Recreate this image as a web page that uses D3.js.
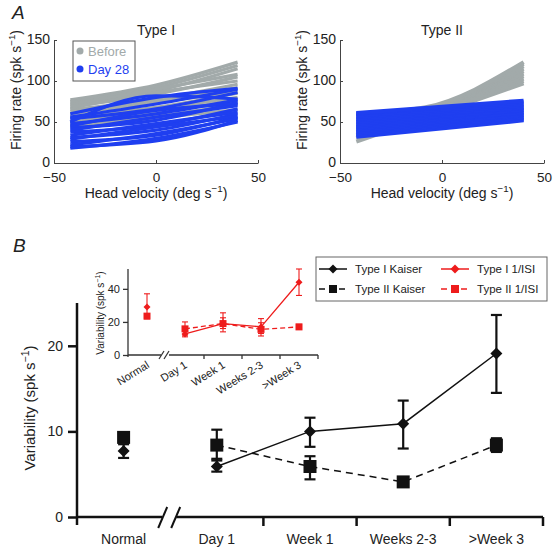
<!DOCTYPE html>
<html><head><meta charset="utf-8">
<script src="https://cdn.jsdelivr.net/npm/d3@7"></script>
<style>body{margin:0;background:#fff} svg{display:block} text{font-family:"Liberation Sans",Arial,Helvetica,sans-serif}</style>
</head><body>
<script>
// ---------- Panel A data ----------
const velocityTypeI = [-42, 0, 40];
const velocityTypeII = [-42, -8, 40];
const typeIBefore = [[77,95,123],[75,92,119],[73,88,115],[71,90,108],[69,84,105],[67,86,100],[65,78,96],[63,76,92],[60,74,87],[57,68,85],[54,66,80],[50,63,76],[47,57,72],[44,55,65]];
const typeIDay28 = [[60,80,91],[56,72,90],[54,66,86],[50,82,78],[48,60,77],[45,64,72],[43,52,74],[40,56,70],[38,46,66],[34,48,62],[31,40,60],[29,44,57],[26,34,56],[22,36,54],[20,27,52],[18,30,50]];
const typeIIBefore = [[26,55,97],[30,57,100],[34,58,103],[38,60,106],[42,62,109],[46,63,112],[50,64,115],[54,65,118],[58,66,121],[60,68,123]];
const typeIIDay28Start = [32,34,36,38,40,42,44,46,48,50,52,54,56,58,60,61];
const typeIIDay28End = [52,53,55,56,58,59,61,62,64,65,67,68,70,72,74,76];
const velTicks = [-50, 0, 50];
const rateTicks = [0, 50, 100, 150];

// ---------- Panel B data ----------
const categories = ["Normal", "Day 1", "Week 1", "Weeks 2-3", ">Week 3"];
const kaiserI = [7.7, 5.9, 10.0, 10.9, 19.1];
const kaiserILow = [6.9, 5.3, 8.2, 8.0, 14.5];
const kaiserIHigh = [8.5, 6.8, 11.6, 13.6, 23.6];
const kaiserII = [9.3, 8.4, 5.9, 4.1, 8.4];
const kaiserIILow = [8.9, 6.6, 4.4, 3.8, 7.6];
const kaiserIIHigh = [9.7, 10.2, 7.1, 4.5, 9.2];
const isiI = [29, 12.7, 19, 17, 44];
const isiILow = [22, 11, 14, 13, 36];
const isiIHigh = [37, 15, 25.5, 22, 52];
const isiII = [23.5, 15.8, 19, 15.5, 17];
const isiIILow = [22, 12, 16, 11.5, 15.5];
const isiIIHigh = [25, 20, 22.5, 19.5, 18.5];
const mainTicks = [0, 10, 20];
const insetTicks = [0, 20, 40];

const GRAY = "#a2aaaa", BLUE = "#1f3ff0", RED = "#ee1c1c";
const W = 555, H = 550;
const svg = d3.select("body").append("svg").attr("width", W).attr("height", H);

function supLabel(g, x, y, text, size, rotate, anchor) {
  const t = g.append("text").attr("font-size", size).attr("text-anchor", anchor || "middle").attr("fill", "#222")
    .attr("transform", `translate(${x},${y})` + (rotate ? ` rotate(${rotate})` : ""));
  t.append("tspan").text(text);
  t.append("tspan").attr("dy", -size * 0.4).attr("font-size", size * 0.7).text("−1");
  t.append("tspan").attr("dy", size * 0.4).text(")");
  return t;
}

// ---------- Panel A ----------
function panelA(x0, title, before, beforeX, dayLines, dayX, lw) {
  const x = d3.scaleLinear().domain([-50, 50]).range([x0, x0 + 204]);
  const y = d3.scaleLinear().domain([0, 150]).range([163, 40]);
  const g = svg.append("g");
  const line = xs => d3.line().x((d, i) => x(xs[i])).y(d => y(d)).curve(d3.curveMonotoneX);
  g.selectAll(".bf").data(before).join("path").attr("d", d => line(beforeX)(d))
    .attr("fill", "none").attr("stroke", GRAY).attr("stroke-width", lw);
  g.selectAll(".dy").data(dayLines).join("path").attr("d", d => line(dayX)(d))
    .attr("fill", "none").attr("stroke", BLUE).attr("stroke-width", lw);
  const ax = g.append("g").attr("transform", `translate(${x0},0)`)
    .call(d3.axisLeft(y).tickValues(rateTicks).tickSize(-3).tickSizeOuter(0).tickPadding(4));
  const bx = g.append("g").attr("transform", `translate(0,163)`)
    .call(d3.axisBottom(x).tickValues(velTicks).tickSize(-3).tickSizeOuter(0).tickPadding(9));
  [ax, bx].forEach(a => {
    a.selectAll("path,line").attr("stroke", "#444");
    a.selectAll("text").attr("font-size", 14).attr("fill", "#222").attr("font-family", '"Liberation Sans",Arial,sans-serif');
  });
  ax.selectAll("text").attr("dy", "0.25em");
  bx.selectAll("text").attr("dy", "0.71em").attr("font-size", 13.5);
  g.append("text").attr("x", x(0)).attr("y", 35).attr("text-anchor", "middle").attr("font-size", 14).attr("fill", "#222").text(title);
  supLabel(g, x(0), 198, "Head velocity (deg s", 14, 0);
  supLabel(g, x0 - 33, 90, "Firing rate (spk s", 14, -90);
}
panelA(54, "Type I", typeIBefore, velocityTypeI, typeIDay28, velocityTypeI, 3.2);
panelA(340, "Type II", typeIIBefore, velocityTypeII,
  typeIIDay28Start.map((s, i) => [s, typeIIDay28End[i]]), [-42, 40], 4);

// legend A
const lg = svg.append("g");
lg.append("rect").attr("x", 73).attr("y", 41).attr("width", 62).attr("height", 40).attr("fill", "#fff").attr("stroke", "#555");
lg.append("circle").attr("cx", 80).attr("cy", 51).attr("r", 3.5).attr("fill", GRAY);
lg.append("text").attr("x", 88).attr("y", 56).attr("font-size", 13).attr("fill", GRAY).text("Before");
lg.append("circle").attr("cx", 80).attr("cy", 69).attr("r", 3.5).attr("fill", BLUE);
lg.append("text").attr("x", 88).attr("y", 74).attr("font-size", 13).attr("fill", BLUE).text("Day 28");

svg.append("text").attr("x", 12).attr("y", 19).attr("font-size", 19).attr("font-style", "italic").attr("fill", "#222").text("A");
svg.append("text").attr("x", 13).attr("y", 252).attr("font-size", 19).attr("font-style", "italic").attr("fill", "#222").text("B");

// ---------- Panel B main ----------
const xb = d3.scaleBand().domain(categories).range([77, 543]).padding(0);
const yb = d3.scaleLinear().domain([0, 25]).range([517, 303]);
const cx = c => xb(c) + xb.bandwidth() / 2;
const gb = svg.append("g");
gb.append("line").attr("x1", 77).attr("x2", 77).attr("y1", 303).attr("y2", 525).attr("stroke", "#111").attr("stroke-width", 2.5);
const yax = gb.append("g").attr("transform", "translate(77,0)")
  .call(d3.axisLeft(yb).tickValues(mainTicks).tickSize(9).tickSizeOuter(0).tickPadding(5));
yax.select(".domain").remove();
yax.selectAll("line").attr("stroke", "#111").attr("stroke-width", 2.5);
yax.selectAll("text").attr("font-size", 14).attr("fill", "#222").attr("font-family", '"Liberation Sans",Arial,sans-serif');
const brk = xb.bandwidth() + 77;
gb.append("line").attr("x1", 77).attr("x2", brk - 8).attr("y1", 517).attr("y2", 517).attr("stroke", "#111").attr("stroke-width", 2.5);
gb.append("line").attr("x1", brk + 6).attr("x2", 543).attr("y1", 517).attr("y2", 517).attr("stroke", "#111").attr("stroke-width", 2.5);
[-12, 1].forEach(o => gb.append("line").attr("x1", brk + o).attr("y1", 528).attr("x2", brk + o + 9).attr("y2", 507).attr("stroke", "#111").attr("stroke-width", 2));
gb.selectAll(".tk").data(categories.slice(1)).join("line")
  .attr("x1", d => xb(d) + xb.bandwidth()).attr("x2", d => xb(d) + xb.bandwidth())
  .attr("y1", 517).attr("y2", 526).attr("stroke", "#111").attr("stroke-width", 2.5);
gb.selectAll(".cl").data(categories).join("text").attr("x", d => cx(d)).attr("y", 544)
  .attr("text-anchor", "middle").attr("font-size", 14).attr("fill", "#222").text(d => d);
supLabel(gb, 35, 408, "Variability (spk s", 15, -90);

function diamond(s) { return `M0,${-s}L${s},0L0,${s}L${-s},0Z`; }
function series(g, xs, yScale, vals, lo, hi, opts) {
  const pts = categories.map((c, i) => ({ x: xs(c), y: yScale(vals[i]), lo: yScale(lo[i]), hi: yScale(hi[i]) }));
  g.append("path").attr("d", d3.line().x(d => d.x).y(d => d.y)(pts.slice(1)))
    .attr("fill", "none").attr("stroke", opts.color).attr("stroke-width", opts.lw)
    .attr("stroke-dasharray", opts.dash || null);
  pts.forEach(p => {
    g.append("line").attr("x1", p.x).attr("x2", p.x).attr("y1", p.lo).attr("y2", p.hi).attr("stroke", opts.color).attr("stroke-width", opts.ew);
    [p.lo, p.hi].forEach(yy => g.append("line").attr("x1", p.x - opts.cap).attr("x2", p.x + opts.cap).attr("y1", yy).attr("y2", yy).attr("stroke", opts.color).attr("stroke-width", opts.ew));
    if (opts.shape === "d") g.append("path").attr("d", diamond(opts.size)).attr("transform", `translate(${p.x},${p.y})`).attr("fill", opts.color);
    else g.append("rect").attr("x", p.x - opts.size).attr("y", p.y - opts.size).attr("width", opts.size * 2).attr("height", opts.size * 2).attr("fill", opts.color);
  });
}

// ---------- Inset ----------
const xi = d3.scaleBand().domain(categories).range([128, 318]);
const yi = d3.scaleLinear().domain([0, 52]).range([355, 269]);
const cxi = c => xi(c) + xi.bandwidth() / 2;
const gi = svg.append("g");
gi.append("line").attr("x1", 128).attr("x2", 128).attr("y1", 269).attr("y2", 357).attr("stroke", "#333").attr("stroke-width", 1.3);
const yiax = gi.append("g").attr("transform", "translate(128,0)")
  .call(d3.axisLeft(yi).tickValues(insetTicks).tickSize(5).tickSizeOuter(0).tickPadding(3));
yiax.select(".domain").remove();
yiax.selectAll("line").attr("stroke", "#333").attr("stroke-width", 1.3);
yiax.selectAll("text").attr("font-size", 11).attr("fill", "#222").attr("font-family", '"Liberation Sans",Arial,sans-serif');
const ibrk = 128 + xi.bandwidth();
gi.append("line").attr("x1", 128).attr("x2", ibrk - 5).attr("y1", 355).attr("y2", 355).attr("stroke", "#333").attr("stroke-width", 1.3);
gi.append("line").attr("x1", ibrk + 3).attr("x2", 318).attr("y1", 355).attr("y2", 355).attr("stroke", "#333").attr("stroke-width", 1.3);
[-7, -2].forEach(o => gi.append("line").attr("x1", ibrk + o).attr("y1", 359).attr("x2", ibrk + o + 5).attr("y2", 351).attr("stroke", "#333").attr("stroke-width", 1.2));
gi.selectAll(".tk").data(categories.slice(1)).join("line")
  .attr("x1", d => xi(d) + xi.bandwidth()).attr("x2", d => xi(d) + xi.bandwidth())
  .attr("y1", 355).attr("y2", 359).attr("stroke", "#333").attr("stroke-width", 1.3);
gi.selectAll(".cl").data(categories).join("text").attr("text-anchor", "end").attr("font-size", 11).attr("fill", "#222")
  .attr("transform", d => `translate(${cxi(d) + 3},${367}) rotate(-32)`).text(d => d);
supLabel(gi, 104, 313, "Variability (spk s", 10, -90);
series(gi, cxi, yi, isiI, isiILow, isiIHigh, { color: RED, lw: 1.3, ew: 1.1, cap: 3, shape: "d", size: 3.5 });
series(gi, cxi, yi, isiII, isiIILow, isiIIHigh, { color: RED, lw: 1.3, ew: 1.1, cap: 3, shape: "s", size: 3.5, dash: "5,3" });

// main series
series(gb, cx, yb, kaiserI, kaiserILow, kaiserIHigh, { color: "#111", lw: 1.5, ew: 2.2, cap: 5.5, shape: "d", size: 6 });
series(gb, cx, yb, kaiserII, kaiserIILow, kaiserIIHigh, { color: "#111", lw: 1.5, ew: 2.2, cap: 5.5, shape: "s", size: 6.5, dash: "7,5" });

// ---------- Legend B ----------
const lb = svg.append("g");
lb.append("rect").attr("x", 316).attr("y", 257).attr("width", 231).attr("height", 44).attr("fill", "#fff").attr("stroke", "#666");
const legItems = [
  { label: "Type I Kaiser", color: "#111", shape: "d", dash: null, x: 319, y: 269 },
  { label: "Type II Kaiser", color: "#111", shape: "s", dash: "7,5", x: 319, y: 289 },
  { label: "Type I 1/ISI", color: RED, shape: "d", dash: null, x: 441, y: 269 },
  { label: "Type II 1/ISI", color: RED, shape: "s", dash: "7,5", x: 441, y: 289 }
];
legItems.forEach(it => {
  lb.append("line").attr("x1", it.x).attr("x2", it.x + 28).attr("y1", it.y).attr("y2", it.y).attr("stroke", it.color).attr("stroke-width", 1.5).attr("stroke-dasharray", it.dash ? "6,4" : null);
  if (it.shape === "d") lb.append("path").attr("d", diamond(4.5)).attr("transform", `translate(${it.x + 14},${it.y})`).attr("fill", it.color);
  else lb.append("rect").attr("x", it.x + 10).attr("y", it.y - 4).attr("width", 8).attr("height", 8).attr("fill", it.color);
  lb.append("text").attr("x", it.x + 36).attr("y", it.y + 4).attr("font-size", 11.5).attr("fill", "#222").text(it.label);
});
</script>
</body></html>
